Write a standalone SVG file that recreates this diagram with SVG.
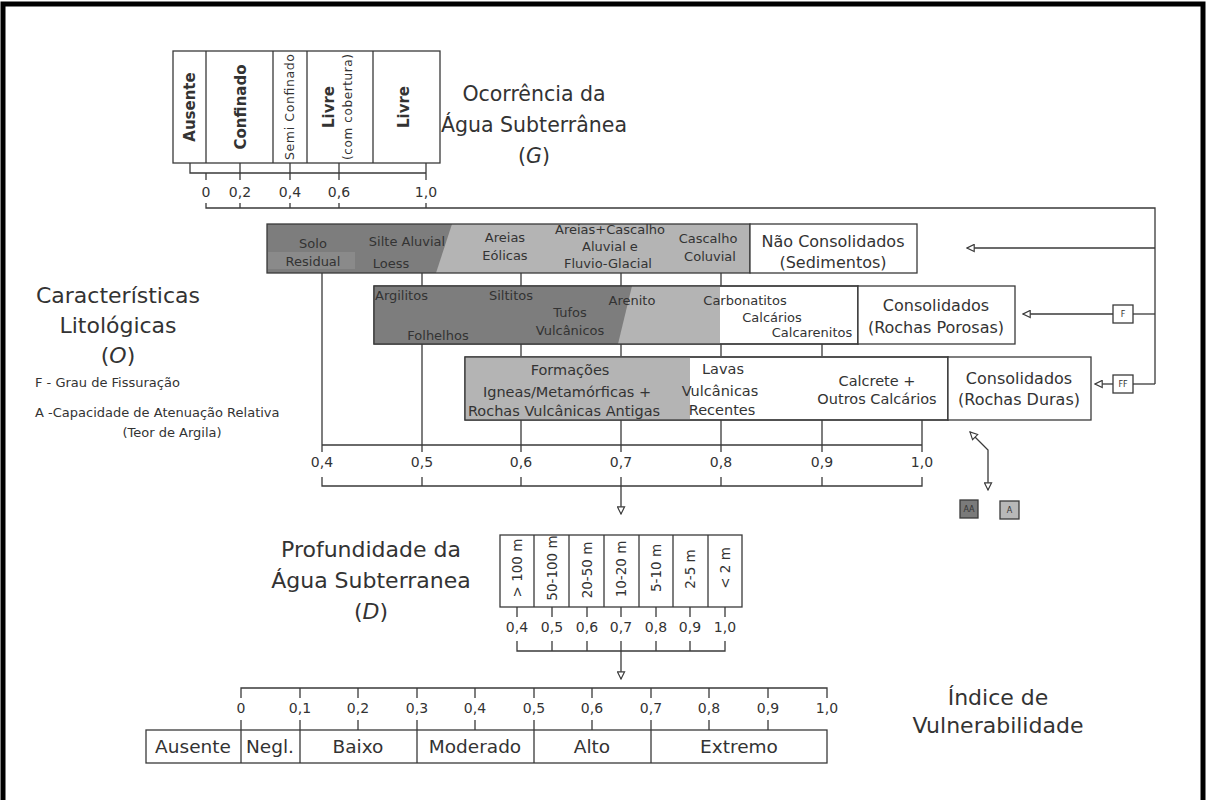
<svg xmlns="http://www.w3.org/2000/svg" width="1207" height="800" viewBox="0 0 1207 800">
<style>
text{font-family:"DejaVu Sans","Liberation Sans",sans-serif;fill:#333}
.ln{stroke:#3a3a3a;stroke-width:1.3;fill:none}
.bx{stroke:#3a3a3a;stroke-width:1.3;fill:#fff}
.dk{fill:#7d7d7d}
.lt{fill:#b4b4b4}
.t13{font-size:13px}
.t14{font-size:14px}
.t15{font-size:15px}
.t16{font-size:16px}
.t22{font-size:22px}
.m{text-anchor:middle}
.r{dominant-baseline:central;text-anchor:middle}
.b{font-weight:bold}
</style>
<defs>
<marker id="tri" viewBox="0 0 10 10" refX="9" refY="5" markerWidth="10" markerHeight="9" markerUnits="userSpaceOnUse" orient="auto-start-reverse">
<path d="M1,1 L9,5 L1,9 Z" fill="#fff" stroke="#3a3a3a" stroke-width="1.3"/>
</marker>
</defs>
<rect width="1207" height="800" fill="#fff"/>
<rect x="3" y="4" width="1200" height="820" fill="none" stroke="#000" stroke-width="5"/>

<g id="ocorrencia">
<rect class="bx" x="173" y="51" width="267" height="112"/>
<path class="ln" d="M206,51V163M273,51V163M307,51V163M373,51V163"/>
<text class="r t15 b" transform="translate(190,107) rotate(-90)">Ausente</text>
<text class="r t15 b" transform="translate(241,107) rotate(-90)">Confinado</text>
<text class="r" font-size="12.5" textLength="106" lengthAdjust="spacing" transform="translate(289,107) rotate(-90)">Semi Confinado</text>
<text class="r t15 b" transform="translate(329,107) rotate(-90)">Livre</text>
<text class="r" font-size="12" textLength="106" lengthAdjust="spacing" transform="translate(348,107) rotate(-90)">(com cobertura)</text>
<text class="r t15 b" transform="translate(404,107) rotate(-90)">Livre</text>
<path class="ln" d="M190,163V173H426M206,173V180M240,163V180M290,163V180M339,163V180M426,163V180"/>
<g class="t14 m">
<text x="206" y="197">0</text><text x="240" y="197">0,2</text><text x="290" y="197">0,4</text><text x="339" y="197">0,6</text><text x="426" y="197">1,0</text>
</g>
<text class="m" font-size="20.5" x="534" y="101">Ocorrência da</text>
<text class="m" font-size="20.5" x="534" y="132">Água Subterrânea</text>
<text class="m" font-size="20.5" x="534" y="163">(<tspan font-style="italic">G</tspan>)</text>
</g>

<g id="connectors">
<path class="ln" d="M206,203V208H1155V384M240,203V208M290,203V208M339,203V208M426,203V208"/>
<path class="ln" d="M1155,248H967" marker-end="url(#tri)"/>
<path class="ln" d="M1155,314H1133"/>
<path class="ln" d="M1113,314H1023" marker-end="url(#tri)"/>
<path class="ln" d="M1155,384H1133"/>
<path class="ln" d="M1113,384H1095" marker-end="url(#tri)"/>
<path class="ln" d="M322,273V452M422,273V286M422,344V452M521,273V286M521,344V356M521,420V452M621,273V286M621,344V356M621,420V452M721,273V286M721,344V356M721,420V452M822,344V356M822,420V452M922,420V452M322,445H922"/>
<path class="ln" d="M322,477V486H922V477M422,477V486M521,477V486M721,477V486M822,477V486M621,477V486"/>
<path class="ln" d="M621,486V514" marker-end="url(#tri)"/>
<path class="ln" d="M517,607V617M552,607V617M587,607V617M621,607V617M656,607V617M690,607V617M725,607V617"/>
<path class="ln" d="M517,641V651H725V641M552,641V651M587,641V651M656,641V651M690,641V651M621,641V651"/>
<path class="ln" d="M621,651V679" marker-end="url(#tri)"/>
<polyline class="ln" points="988,490 988,450 970,432" marker-start="url(#tri)" marker-end="url(#tri)"/>
</g>

<g id="sedimentos">
<rect class="lt" x="267" y="224" width="483" height="49"/>
<polygon class="dk" points="267,224 452,224 436,273 267,273"/>
<rect x="268" y="252" width="87" height="17" fill="#8a8a8a"/>
<rect class="ln" x="267" y="224" width="483" height="49"/>
<rect class="bx" x="750" y="224" width="167" height="49"/>
<g class="t13 m">
<text x="313" y="248">Solo</text><text x="313" y="266">Residual</text>
<text x="407" y="246">Silte Aluvial</text><text x="391" y="268">Loess</text>
<text x="505" y="242">Areias</text><text x="505" y="260">Eólicas</text>
<text x="610" y="234">Areias+Cascalho</text><text x="610" y="251">Aluvial e</text><text x="608" y="268">Fluvio-Glacial</text>
<text x="708" y="243">Cascalho</text><text x="710" y="261">Coluvial</text>
</g>
<text class="t16 m" x="833" y="247">Não Consolidados</text>
<text class="t16 m" x="833" y="268">(Sedimentos)</text>
</g>

<g id="rochas-porosas">
<rect class="bx" x="374" y="286" width="484" height="58"/>
<rect class="lt" x="374" y="286" width="346" height="58"/>
<polygon class="dk" points="374,286 632,286 618,344 374,344"/>
<rect class="ln" x="374" y="286" width="484" height="58"/>
<rect class="bx" x="858" y="286" width="157" height="58"/>
<g class="t13">
<text x="375" y="300">Argilitos</text>
<text class="m" x="438" y="340">Folhelhos</text>
<text class="m" x="511" y="300">Siltitos</text>
<text class="m" x="570" y="317">Tufos</text>
<text class="m" x="570" y="335">Vulcânicos</text>
<text class="m" x="632" y="305">Arenito</text>
<text class="m" x="745" y="305">Carbonatitos</text>
<text class="m" x="772" y="322">Calcários</text>
<text class="m" x="812" y="337">Calcarenitos</text>
</g>
<text class="t16 m" x="936" y="311">Consolidados</text>
<text class="t16 m" x="936" y="333">(Rochas Porosas)</text>
</g>

<g id="rochas-duras">
<rect class="bx" x="465" y="357" width="483" height="63"/>
<rect class="lt" x="465" y="357" width="225" height="63"/>
<rect class="ln" x="465" y="357" width="483" height="63"/>
<rect class="bx" x="948" y="357" width="143" height="63"/>
<g class="m" font-size="14.5">
<text x="570" y="375">Formações</text>
<text x="567" y="397">Igneas/Metamórficas +</text>
<text x="564" y="416">Rochas Vulcânicas Antigas</text>
<text x="723" y="374">Lavas</text>
<text x="720" y="396">Vulcânicas</text>
<text x="722" y="415">Recentes</text>
<text x="877" y="386">Calcrete +</text>
<text x="877" y="404">Outros Calcários</text>
</g>
<text class="t16 m" x="1019" y="384">Consolidados</text>
<text class="t16 m" x="1019" y="405">(Rochas Duras)</text>
</g>

<g id="lito-scale" class="t14 m">
<text x="322" y="467">0,4</text><text x="422" y="467">0,5</text><text x="521" y="467">0,6</text><text x="621" y="467">0,7</text><text x="721" y="467">0,8</text><text x="822" y="467">0,9</text><text x="922" y="467">1,0</text>
</g>

<g id="box-F">
<rect class="bx" x="1113" y="305" width="20" height="18"/>
<text class="m" font-size="8" x="1123" y="317">F</text>
</g>
<g id="box-FF">
<rect class="bx" x="1113" y="375" width="20" height="18"/>
<text class="m" font-size="8" x="1123" y="387">FF</text>
</g>
<g id="box-AA">
<rect x="960" y="500" width="18" height="18" fill="#7a7a7a" stroke="#3a3a3a" stroke-width="1.3"/>
<text class="m" font-size="8" x="969" y="512">AA</text>
</g>
<g id="box-A">
<rect x="1000" y="501" width="19" height="18" fill="#b8b8b8" stroke="#3a3a3a" stroke-width="1.3"/>
<text class="m" font-size="8" x="1009.5" y="513">A</text>
</g>

<g id="litologia-title">
<text class="t22 m" x="118" y="303">Características</text>
<text class="t22 m" x="118" y="333">Litológicas</text>
<text class="t22 m" x="118" y="363">(<tspan font-style="italic">O</tspan>)</text>
<text class="t13" x="35" y="387">F - Grau de Fissuração</text>
<text class="t13" x="35" y="417">A -Capacidade de Atenuação Relativa</text>
<text class="t13 m" x="172" y="437">(Teor de Argila)</text>
</g>

<g id="profundidade">
<rect class="bx" x="500" y="535" width="242" height="72"/>
<path class="ln" d="M534,535V607M569,535V607M604,535V607M639,535V607M673,535V607M708,535V607"/>
<g class="r" font-size="13.5">
<text transform="translate(517,568) rotate(-90)">&gt; 100 m</text>
<text transform="translate(552,568) rotate(-90)">50-100 m</text>
<text transform="translate(587,570) rotate(-90)">20-50 m</text>
<text transform="translate(621,569) rotate(-90)">10-20 m</text>
<text transform="translate(656,568) rotate(-90)">5-10 m</text>
<text transform="translate(690,569) rotate(-90)">2-5 m</text>
<text transform="translate(725,568) rotate(-90)">&lt; 2 m</text>
</g>
<g class="t14 m">
<text x="517" y="632">0,4</text><text x="552" y="632">0,5</text><text x="587" y="632">0,6</text><text x="621" y="632">0,7</text><text x="656" y="632">0,8</text><text x="690" y="632">0,9</text><text x="725" y="632">1,0</text>
</g>
<text class="t22 m" x="371" y="557">Profundidade da</text>
<text class="t22 m" x="371" y="588">Água Subterranea</text>
<text class="t22 m" x="371" y="619">(<tspan font-style="italic">D</tspan>)</text>
</g>

<g id="vulnerabilidade">
<path class="ln" d="M241,698V688H827V698M300,688V698M358,688V698M417,688V698M475,688V698M534,688V698M592,688V698M651,688V698M709,688V698M768,688V698"/>
<rect class="bx" x="146" y="730" width="681" height="33"/>
<path class="ln" d="M241,720V763M300,720V763M417,720V763M534,720V763M651,720V763M358,720V730M475,720V730M592,720V730M709,720V730M768,720V730"/>
<g class="t14 m">
<text x="241" y="713">0</text><text x="300" y="713">0,1</text><text x="358" y="713">0,2</text><text x="417" y="713">0,3</text><text x="475" y="713">0,4</text><text x="534" y="713">0,5</text><text x="592" y="713">0,6</text><text x="651" y="713">0,7</text><text x="709" y="713">0,8</text><text x="768" y="713">0,9</text><text x="827" y="713">1,0</text>
</g>
<g class="m" font-size="18.5">
<text x="193" y="753">Ausente</text><text x="270" y="753">Negl.</text><text x="358" y="753">Baixo</text><text x="475" y="753">Moderado</text><text x="592" y="753">Alto</text><text x="739" y="753">Extremo</text>
</g>
<text class="t22 m" x="998" y="705">Índice de</text>
<text class="t22 m" x="998" y="733">Vulnerabilidade</text>
</g>
</svg>
